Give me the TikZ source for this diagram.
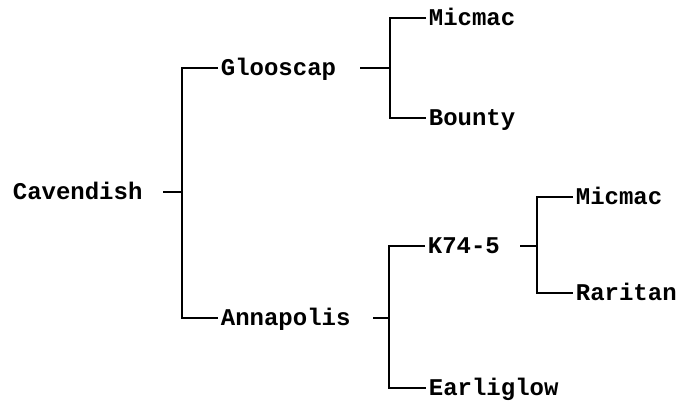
\documentclass[tikz,border=0pt]{standalone}
\usepackage{fontspec}
\setmonofont{Liberation Mono}
\begin{document}
\begin{tikzpicture}[x=1pt,y=-1pt,line width=1.7pt,
  lbl/.style={anchor=west,inner sep=0pt,text height=14pt,text depth=0pt,font=\ttfamily\bfseries\fontsize{24}{24}\selectfont}]
\useasboundingbox (0,0) rectangle (677,402);
\node[lbl] (cav) at (12,192) {Cavendish};
\node[lbl] (gloo) at (220,68) {Glooscap};
\node[lbl] (ann) at (220,318) {Annapolis};
\node[lbl] (mic1) at (428,18) {Micmac};
\node[lbl] (boun) at (428,118) {Bounty};
\node[lbl] (k74) at (427,246) {K74-5};
\node[lbl] (earl) at (428,388) {Earliglow};
\node[lbl] (mic2) at (575,197) {Micmac};
\node[lbl] (rar) at (575,293) {Raritan};
\coordinate (jc) at (182,192);
\coordinate (jg) at (390,68);
\coordinate (ja) at (389,318);
\coordinate (jk) at (537,246);
\draw (163,192) -- (jc);
\draw ([xshift=-2pt]gloo.west) -| (jc) |- ([xshift=-2pt]ann.west);
\draw (360,68) -- (jg);
\draw ([xshift=-2pt]mic1.west) -| (jg) |- ([xshift=-2pt]boun.west);
\draw (373,318) -- (ja);
\draw ([xshift=-2pt]k74.west) -| (ja) |- ([xshift=-2pt]earl.west);
\draw (520,246) -- (jk);
\draw ([xshift=-2pt]mic2.west) -| (jk) |- ([xshift=-2pt]rar.west);
\end{tikzpicture}
\end{document}
